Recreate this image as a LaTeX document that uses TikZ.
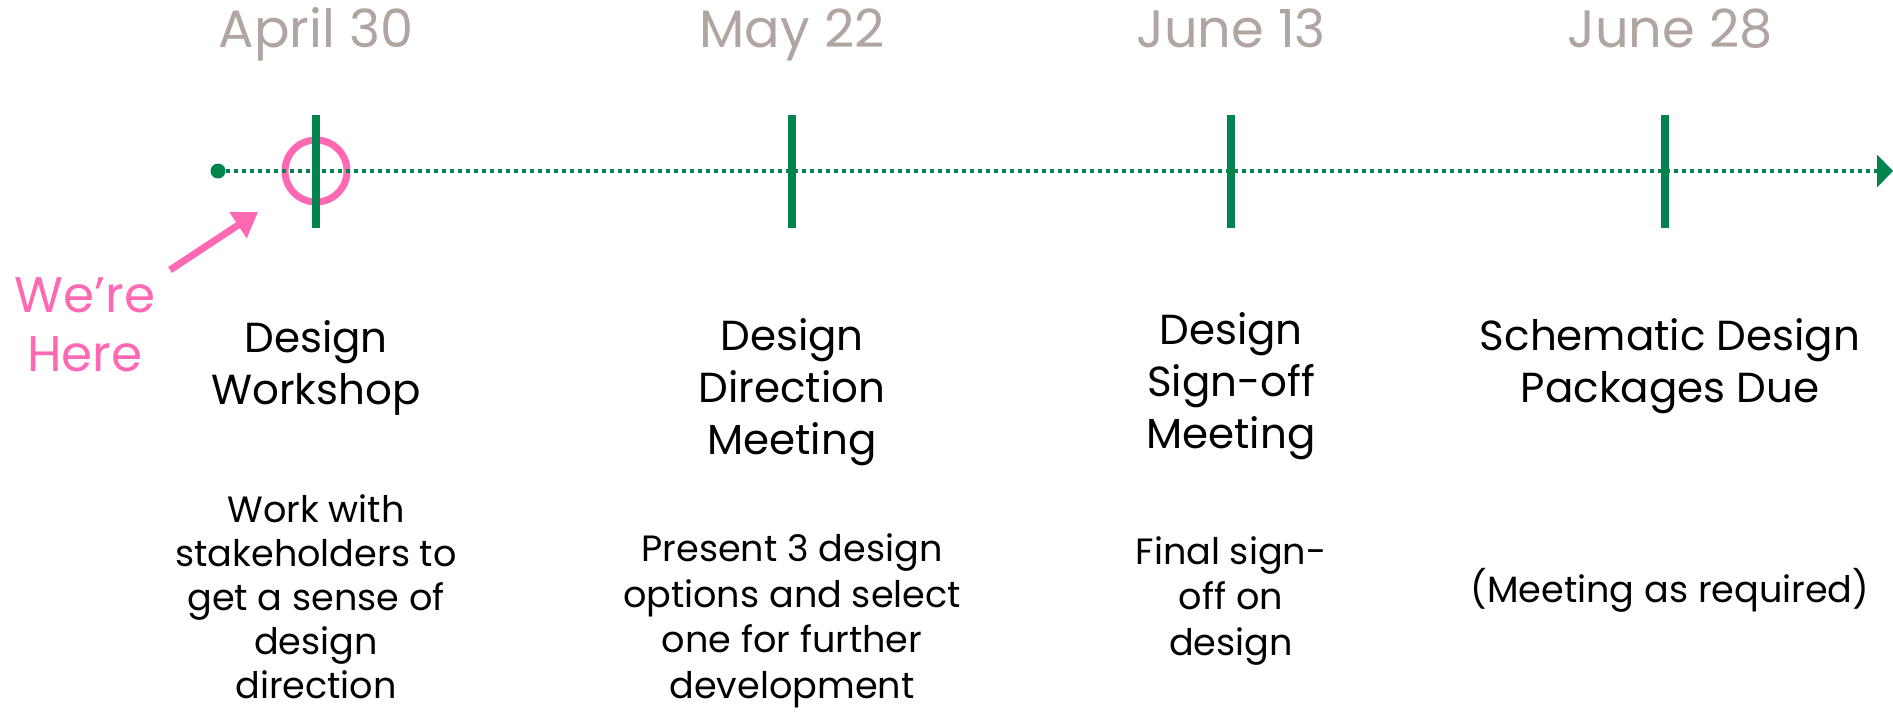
\documentclass[tikz,border=0pt]{standalone}
\usepackage{fontspec}
\setmainfont{Poppins}
\usepackage{xcolor}
\usepackage{tikz}
\usetikzlibrary{positioning,arrows.meta}
\definecolor{cLine}{HTML}{00834F}
\definecolor{cHere}{HTML}{FF69B4}
\definecolor{cDate}{HTML}{B0A5A1}
\tikzset{
  date/.style={font=\fontsize{26.3}{30}\selectfont,text=cDate,anchor=base,inner sep=0pt},
  head/.style={font=\fontsize{21}{26}\selectfont,align=center,inner sep=0pt},
  body/.style={font=\fontsize{18.3}{22.8}\selectfont,align=center,inner sep=0pt},
  tickmark/.style={draw=cLine,line width=4pt},
  axis/.style={draw=cLine,line width=2pt,dash pattern=on 2pt off 2pt,-{Triangle[length=8pt,width=16pt]}},
  herearr/.style={draw=cHere,line width=3.5pt,-{Triangle[length=12pt,width=15pt]}},
  herelbl/.style={font=\fontsize{25}{29.5}\selectfont,text=cHere,align=center,inner sep=0pt}}

\begin{document}
\begin{tikzpicture}[x=0.5pt,y=-0.5pt]
\useasboundingbox (0,0) rectangle (1893,713);
% time axis
\node[circle,draw=cHere,line width=3.5pt,minimum size=31pt,inner sep=0pt] (now) at (316,171) {};
\node[circle,fill=cLine,inner sep=0pt,minimum size=7.5pt] (start) at (218,171) {};
\coordinate (finish) at (1893,171);
\draw[axis] (start.center) -- (finish);
\draw[tickmark] (316,115) -- (316,228);
\draw[tickmark] (792,115) -- (792,228);
\draw[tickmark] (1231,115) -- (1231,228);
\draw[tickmark] (1665,115) -- (1665,228);
% dates
\node[date] (d1) at (316,47) {April 30};
\node[date] (d2) at (792,47) {May 22};
\node[date] (d3) at (1231,47) {June 13};
\node[date] (d4) at (1670,47) {June 28};
% milestones
\node[head] (m1) at (316,368) {Design\\Workshop};
\node[head] (m2) at (792,392) {Design\\Direction\\Meeting};
\node[head] (m3) at (1231,386) {Design\\Sign-off\\Meeting};
\node[head] (m4) at (1670,366) {Schematic Design\\Packages Due};
\node[body,font=\fontsize{18.3}{22}\selectfont,anchor=south,text depth=0pt] (t1) at (316,699) {Work with\\stakeholders to\\get a sense of\\design\\direction};
\node[body] (t2) at (792,621) {Present 3 design\\options and select\\one for further\\development};
\node[body] (t3) at (1231,601) {Final sign-\\off on\\design};
\node[body] (t4) at (1670,590) {(Meeting as required)};
% we're here
\node[herelbl] (here) at (85,325) {We’re\\Here};
\coordinate (hereTail) at (170,270);
\coordinate (hereTip) at (258,212);
\draw[herearr] (hereTail) -- (hereTip);
\end{tikzpicture}
\end{document}
